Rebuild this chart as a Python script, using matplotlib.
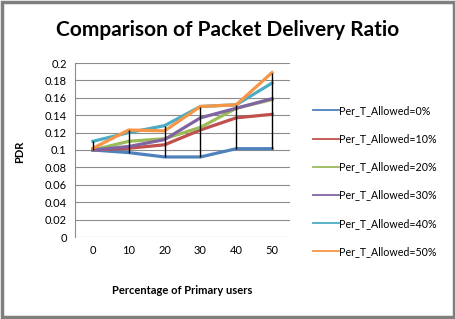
import numpy as np
import matplotlib.pyplot as plt
from matplotlib.lines import Line2D

# Data
categories = ["0", "10", "20", "30", "40", "50"]
series_labels = ["Per_T_Allowed=0%", "Per_T_Allowed=10%", "Per_T_Allowed=20%",
                 "Per_T_Allowed=30%", "Per_T_Allowed=40%", "Per_T_Allowed=50%"]
pdr_0 = [0.100, 0.097, 0.092, 0.092, 0.1015, 0.1015]
pdr_10 = [0.100, 0.102, 0.106, 0.123, 0.137, 0.141]
pdr_20 = [0.100, 0.110, 0.113, 0.126, 0.148, 0.158]
pdr_30 = [0.100, 0.104, 0.112, 0.137, 0.148, 0.159]
pdr_40 = [0.110, 0.120, 0.128, 0.150, 0.152, 0.177]
pdr_50 = [0.102, 0.123, 0.122, 0.150, 0.152, 0.189]
colors = ["#4F81BD", "#C0504D", "#9BBB59", "#8064A2", "#4BACC6", "#F79646"]

plt.rcParams['font.family'] = ['Lato', 'DejaVu Sans']

fig = plt.figure(figsize=(4.56, 3.19), dpi=100)
ax = fig.add_axes([75 / 456, 1 - 237 / 319, (290 - 75) / 456, (237 - 63) / 319])

x = np.arange(len(categories))
all_series = [pdr_0, pdr_10, pdr_20, pdr_30, pdr_40, pdr_50]

# high-low lines
arr = np.array(all_series)
ax.vlines(x, arr.min(axis=0), arr.max(axis=0), color="black", lw=1, zorder=3)

for vals, c in zip(all_series, colors):
    ax.plot(x, vals, color=c, lw=2.3, zorder=2)

ax.set_xlim(-0.5, len(categories) - 0.5)
ax.set_ylim(0, 0.2)
ax.set_yticks(np.arange(0, 0.201, 0.02))
ax.set_yticklabels(["0", "0.02", "0.04", "0.06", "0.08", "0.1", "0.12", "0.14",
                    "0.16", "0.18", "0.2"])
ax.set_xticks(x)
ax.set_xticklabels(categories)
ax.tick_params(length=0, labelsize=8, pad=6)
ax.grid(axis="y", color="#8c8c8c", lw=0.8)
ax.set_axisbelow(True)
for s in ["top", "right", "bottom"]:
    ax.spines[s].set_visible(False)
ax.spines["left"].set_color("#8c8c8c")

fig.text(0.5, 1 - 30 / 319, "Comparison of Packet Delivery Ratio", ha="center",
         va="center", fontsize=15, fontweight="bold")
fig.text(20 / 456, 1 - 152 / 319, "PDR", rotation=90, ha="center", va="center",
         fontsize=8, fontweight="bold")
fig.text(182 / 456, 1 - 290 / 319, "Percentage of Primary users", ha="center",
         va="center", fontsize=8, fontweight="bold")

handles = [Line2D([], [], color=c, lw=1.3) for c in colors]
fig.legend(handles, series_labels, loc="center left",
           bbox_to_anchor=(303 / 456, 1 - 181 / 319),
           frameon=False, fontsize=7.7, handlelength=2.5, handletextpad=0.0,
           labelspacing=1.6)

# chart border
fig.patches.append(plt.Rectangle((0.004, 0.006), 0.992, 0.988, transform=fig.transFigure,
                                 fill=False, edgecolor="#7f7f7f", lw=2.5))

fig.savefig("out.png", dpi=100)
